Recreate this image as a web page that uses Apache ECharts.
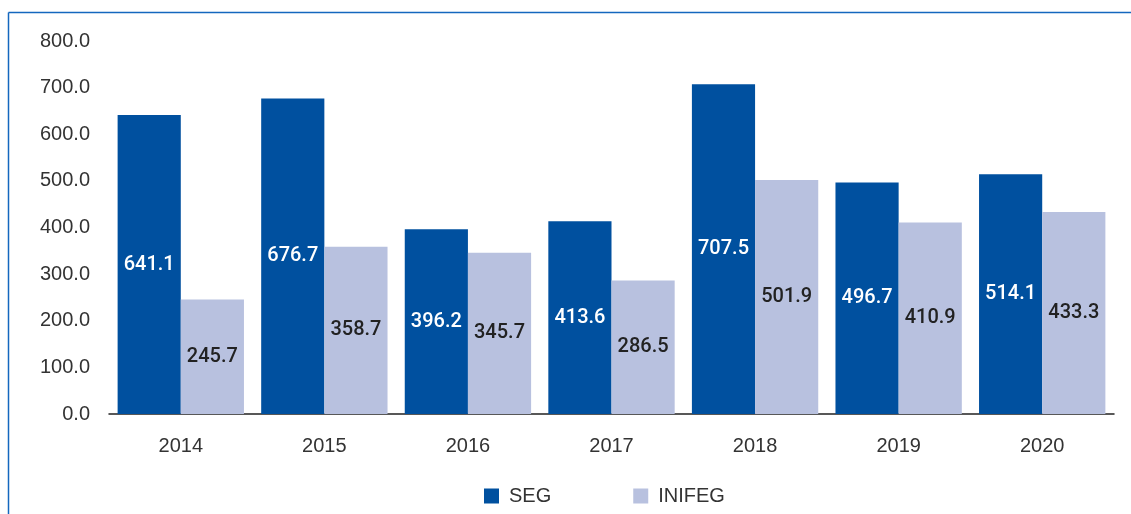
<!DOCTYPE html>
<html>
<head>
<meta charset="utf-8">
<script src="https://cdn.jsdelivr.net/npm/echarts@6/dist/echarts.min.js"></script>
<style>
html, body { margin: 0; padding: 0; background: #fff; }
#main { width: 1131px; height: 514px; }
</style>
</head>
<body>
<div id="main"></div>
<script>
var years = ['2014', '2015', '2016', '2017', '2018', '2019', '2020'];
var segValues = [641.1, 676.7, 396.2, 413.6, 707.5, 496.7, 514.1];
var inifegValues = [245.7, 358.7, 345.7, 286.5, 501.9, 410.9, 433.3];
var seriesNames = ['SEG', 'INIFEG'];

var chartDom = document.getElementById('main');
var myChart = echarts.init(chartDom);
var fontFamily = '"Liberation Sans", Arial, sans-serif';
var labelFont = 'Roboto, "Liberation Sans", sans-serif';

var option = {
	animation : false,
	textStyle : {
		fontFamily : fontFamily
	},
	graphic : [{
				type : 'line',
				shape : { x1 : 8.5, y1 : 12.5, x2 : 1131, y2 : 12.5 },
				style : { stroke : '#1467be', lineWidth : 1.5 }
			}, {
				type : 'line',
				shape : { x1 : 8.5, y1 : 12.5, x2 : 8.5, y2 : 514 },
				style : { stroke : '#1467be', lineWidth : 1.5 }
			}],
	grid : {
		left : 109,
		right : 17,
		top : 41,
		bottom : 100
	},
	legend : {
		data : seriesNames,
		top : 481,
		left : 479,
		itemWidth : 15,
		itemHeight : 15,
		itemGap : 82,
		icon : 'rect',
		textStyle : {
			fontSize : 20,
			color : '#333',
			padding : [0, 0, 0, 5],
			fontFamily : fontFamily
		}
	},
	xAxis : {
		type : 'category',
		data : years,
		axisTick : { show : false },
		axisLine : {
			lineStyle : { color : '#222', width : 1.5 }
		},
		axisLabel : {
			fontSize : 20,
			color : '#333',
			margin : 22,
			fontFamily : fontFamily
		}
	},
	yAxis : {
		type : 'value',
		min : 0,
		max : 800,
		interval : 100,
		splitLine : { show : false },
		axisLine : { show : false },
		axisTick : { show : false },
		axisLabel : {
			fontSize : 20,
			color : '#333',
			margin : 19,
			fontFamily : fontFamily,
			formatter : function(v) {
				return v.toFixed(1);
			}
		}
	},
	series : [{
				name : seriesNames[0],
				type : 'bar',
				data : segValues,
				barGap : '0%',
				barCategoryGap : '12%',
				itemStyle : { color : '#00509f' },
				label : {
					show : true,
					position : 'inside',
					color : '#fff',
					fontSize : 20,
					fontWeight : 500,
					fontFamily : labelFont,
					formatter : function(p) {
						return p.value.toFixed(1);
					}
				}
			}, {
				name : seriesNames[1],
				type : 'bar',
				data : inifegValues,
				itemStyle : { color : '#b8c1df' },
				label : {
					show : true,
					position : 'inside',
					color : '#222',
					fontSize : 20,
					fontWeight : 500,
					fontFamily : labelFont,
					formatter : function(p) {
						return p.value.toFixed(1);
					}
				}
			}]
};

myChart.setOption(option);
</script>
</body>
</html>
